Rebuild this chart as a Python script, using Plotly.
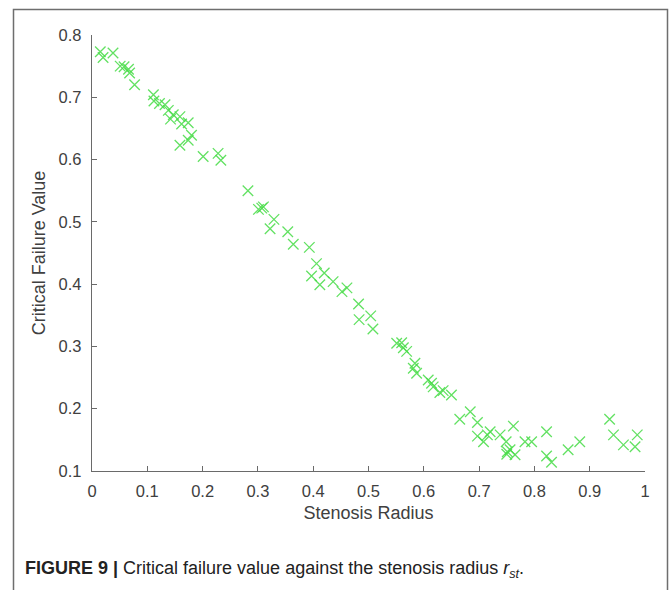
import plotly.graph_objects as go

# Data
stenosis_radius = [
    0.015, 0.020, 0.038, 0.051, 0.058, 0.066, 0.068, 0.077,
    0.111, 0.112, 0.122, 0.132, 0.138, 0.142, 0.147, 0.159, 0.162, 0.174,
    0.180, 0.174, 0.159, 0.201, 0.228, 0.233,
    0.282, 0.301, 0.307, 0.310, 0.329, 0.322, 0.354, 0.364, 0.393,
    0.406, 0.397, 0.420, 0.412, 0.436, 0.452, 0.461, 0.482, 0.483,
    0.504, 0.508, 0.551, 0.560, 0.563, 0.569, 0.584, 0.587, 0.581,
    0.608, 0.614, 0.617, 0.629, 0.635, 0.650,
    0.665, 0.684, 0.697, 0.697, 0.708, 0.715, 0.720, 0.738, 0.749,
    0.762, 0.751, 0.756, 0.750, 0.765, 0.783, 0.795, 0.822, 0.822,
    0.831, 0.861, 0.882, 0.936, 0.943, 0.961, 0.982, 0.986,
]
critical_failure = [
    0.773, 0.764, 0.771, 0.750, 0.749, 0.745, 0.739, 0.720,
    0.704, 0.694, 0.690, 0.688, 0.679, 0.665, 0.672, 0.669, 0.657, 0.659,
    0.639, 0.631, 0.623, 0.605, 0.610, 0.599,
    0.550, 0.520, 0.522, 0.524, 0.504, 0.489, 0.484, 0.464, 0.459,
    0.433, 0.413, 0.418, 0.399, 0.404, 0.388, 0.394, 0.368, 0.343,
    0.349, 0.328, 0.305, 0.306, 0.298, 0.292, 0.273, 0.257, 0.265,
    0.246, 0.241, 0.235, 0.226, 0.229, 0.222,
    0.183, 0.195, 0.178, 0.156, 0.147, 0.158, 0.163, 0.158, 0.147,
    0.172, 0.131, 0.134, 0.127, 0.126, 0.147, 0.147, 0.163, 0.124,
    0.114, 0.134, 0.147, 0.183, 0.158, 0.142, 0.139, 0.158,
]
x_ticks = [0, 0.1, 0.2, 0.3, 0.4, 0.5, 0.6, 0.7, 0.8, 0.9, 1]
x_tick_labels = ["0", "0.1", "0.2", "0.3", "0.4", "0.5", "0.6", "0.7", "0.8", "0.9", "1"]
y_ticks = [0.1, 0.2, 0.3, 0.4, 0.5, 0.6, 0.7, 0.8]
y_tick_labels = ["0.1", "0.2", "0.3", "0.4", "0.5", "0.6", "0.7", "0.8"]

W, H = 669, 590
L, R, T, B = 92, 24, 35, 119
pw, ph = W - L - R, H - T - B

def px_x(p):
    return (p - L) / pw

def px_y(p):
    return (H - B - p) / ph

fig = go.Figure()
fig.add_trace(go.Scatter(
    x=stenosis_radius, y=critical_failure, mode="markers",
    marker=dict(symbol="x-thin", size=10.5, color="rgba(70,220,70,0.85)",
                line=dict(width=1.3, color="rgba(70,220,70,0.85)")),
    showlegend=False, hoverinfo="x+y",
))

axis_col = "#6a6a6a"
fam = "Liberation Sans, Arial, sans-serif"
tick_font = dict(family=fam, size=16.5, color="#404040")

fig.update_xaxes(
    range=[0, 1], tickvals=x_ticks, ticktext=x_tick_labels,
    showgrid=False, zeroline=False, showline=True, linecolor=axis_col, linewidth=1.3,
    ticks="inside", ticklen=5, tickcolor=axis_col, tickwidth=1.2,
    tickfont=tick_font, ticklabelstandoff=5,
    title=dict(text="Stenosis Radius", font=dict(family=fam, size=18, color="#404040"), standoff=7),
)
fig.update_yaxes(
    range=[0.1, 0.8], tickvals=y_ticks, ticktext=y_tick_labels,
    showgrid=False, zeroline=False, showline=True, linecolor=axis_col, linewidth=1.3,
    ticks="inside", ticklen=5, tickcolor=axis_col, tickwidth=1.2,
    tickfont=tick_font, ticklabelstandoff=6,
    title=dict(text="Critical Failure Value", font=dict(family=fam, size=18, color="#404040"), standoff=8),
)

# outer figure frame
fig.add_shape(type="rect", xref="paper", yref="paper",
              x0=px_x(13.5), x1=px_x(667.5), y0=px_y(620), y1=px_y(9.5),
              line=dict(color="#6e6e6e", width=1.5), fillcolor="rgba(0,0,0,0)", layer="below")

fig.add_annotation(
    xref="paper", yref="paper", x=px_x(23), y=px_y(569), xanchor="left", yanchor="middle",
    showarrow=False,
    text="<b>FIGURE 9 |</b> Critical failure value against the stenosis radius <i>r<sub>st</sub></i>.",
    font=dict(family=fam, size=18, color="#222222"),
)

fig.update_layout(
    width=W, height=H, margin=dict(l=L, r=R, t=T, b=B),
    paper_bgcolor="white", plot_bgcolor="white",
)

fig.write_html("out.html")
